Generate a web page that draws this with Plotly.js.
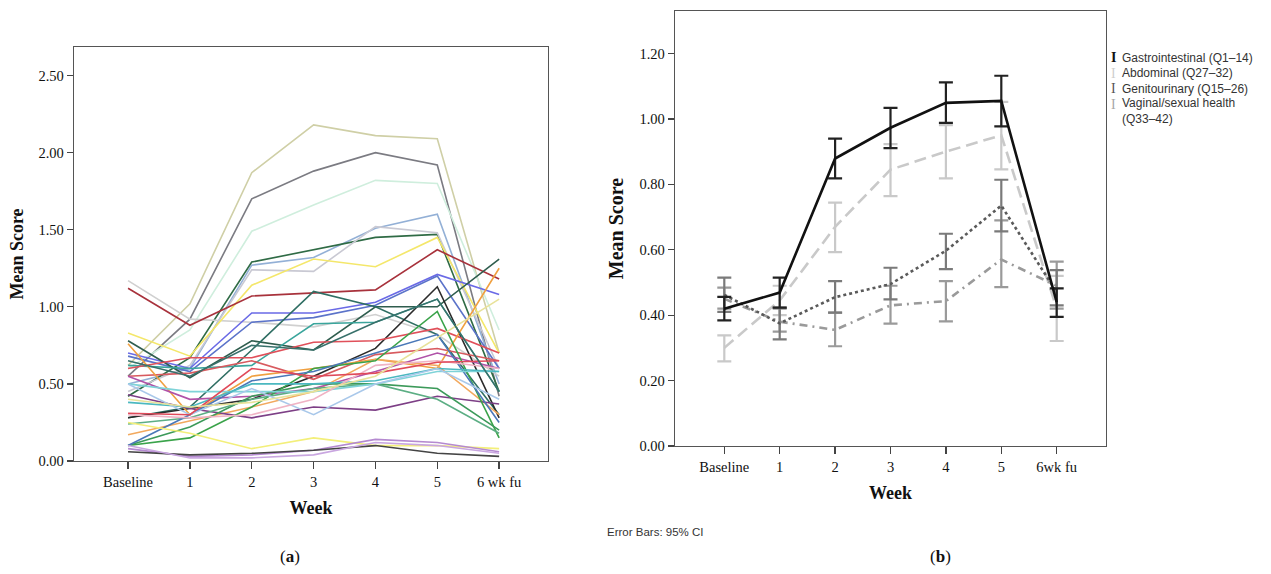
<!DOCTYPE html>
<html>
<head>
<meta charset="utf-8">
<script src="https://cdn.plot.ly/plotly-3.0.1.min.js"></script>
<style>html,body{margin:0;padding:0;background:#fff;}#chart{width:1271px;height:574px;}</style>
</head>
<body>
<div id="chart"></div>
<script>
// ---------- shared categories ----------
const weeks = [0, 1, 2, 3, 4, 5, 6];
const leftTickText = ['Baseline', '1', '2', '3', '4', '5', '6 wk fu'];
const rightTickText = ['Baseline', '1', '2', '3', '4', '5', '6wk fu'];
const leftYTicks = [0, 0.5, 1.0, 1.5, 2.0, 2.5];
const rightYTicks = [0, 0.2, 0.4, 0.6, 0.8, 1.0, 1.2];

// ---------- (a) individual participant mean scores ----------
const p01 = [0.62, 1.02, 1.87, 2.18, 2.11, 2.09, 0.70];
const p02 = [0.55, 0.92, 1.70, 1.88, 2.00, 1.92, 0.42];
const p03 = [0.60, 0.85, 1.49, 1.66, 1.82, 1.80, 0.85];
const p04 = [0.50, 0.60, 1.27, 1.32, 1.51, 1.60, 0.50];
const p05 = [0.42, 0.67, 1.29, 1.37, 1.45, 1.47, 0.45];
const p06 = [0.45, 0.62, 1.24, 1.23, 1.52, 1.48, 0.60];
const p07 = [1.17, 0.92, 0.90, 0.87, 0.95, 0.82, 0.55];
const p08 = [0.83, 0.68, 1.14, 1.31, 1.26, 1.45, 0.70];
const p09 = [1.12, 0.88, 1.07, 1.09, 1.11, 1.37, 1.18];
const p10 = [0.70, 0.60, 0.96, 0.96, 1.03, 1.21, 1.08];
const p11 = [0.68, 0.58, 0.90, 0.93, 1.01, 1.20, 0.60];
const p12 = [0.78, 0.54, 0.78, 0.72, 1.00, 1.00, 1.31];
const p13 = [0.28, 0.35, 0.72, 1.10, 1.00, 0.82, 0.30];
const p14 = [0.28, 0.34, 0.40, 0.55, 0.73, 1.13, 0.28];
const p15 = [0.62, 0.60, 0.62, 0.89, 0.90, 1.05, 0.45];
const p16 = [0.60, 0.67, 0.67, 0.77, 0.78, 0.86, 0.70];
const p17 = [0.55, 0.57, 0.65, 0.53, 0.69, 0.73, 0.65];
const p18 = [0.76, 0.30, 0.55, 0.60, 0.66, 0.60, 1.25];
const p19 = [0.17, 0.26, 0.35, 0.45, 0.66, 0.62, 0.30];
const p20 = [0.43, 0.34, 0.28, 0.35, 0.33, 0.42, 0.37];
const p21 = [0.55, 0.40, 0.42, 0.47, 0.58, 0.70, 0.60];
const p22 = [0.10, 0.15, 0.35, 0.60, 0.65, 0.97, 0.15];
const p23 = [0.10, 0.22, 0.42, 0.50, 0.50, 0.47, 0.20];
const p24 = [0.24, 0.28, 0.40, 0.47, 0.50, 0.40, 0.18];
const p25 = [0.10, 0.30, 0.52, 0.58, 0.70, 0.82, 0.25];
const p26 = [0.50, 0.45, 0.45, 0.45, 0.50, 0.58, 0.58];
const p27 = [0.38, 0.35, 0.50, 0.50, 0.52, 0.60, 0.58];
const p28 = [0.50, 0.30, 0.47, 0.30, 0.50, 0.60, 0.40];
const p29 = [0.25, 0.18, 0.08, 0.15, 0.10, 0.10, 0.08];
const p30 = [0.08, 0.03, 0.04, 0.07, 0.14, 0.12, 0.06];
const p31 = [0.06, 0.04, 0.05, 0.07, 0.10, 0.05, 0.03];
const p32 = [0.10, 0.02, 0.02, 0.04, 0.12, 0.10, 0.05];
const p33 = [0.30, 0.28, 0.30, 0.40, 0.62, 0.65, 0.60];
const p34 = [0.31, 0.30, 0.60, 0.55, 0.57, 0.64, 0.65];
const p35 = [0.40, 0.35, 0.38, 0.45, 0.55, 0.80, 1.05];
const p36 = [0.65, 0.55, 0.75, 0.72, 0.90, 1.05, 0.45];
const participants = [p01,p02,p03,p04,p05,p06,p07,p08,p09,p10,p11,p12,p13,p14,p15,p16,p17,p18,
                      p19,p20,p21,p22,p23,p24,p25,p26,p27,p28,p29,p30,p31,p32,p33,p34,p35,p36];
const participantColors = [
  '#cfcfa6','#7b7b82','#cfeedd','#93b0d6','#2f6b45','#c9c9d3','#d0d0d0','#f4e76a','#a8323c',
  '#6a6ae6','#5b73c9','#2f5d4e','#2f6e63','#2b2b2b','#3aa59c','#e0505a','#d85a5f','#f0a040',
  '#f2a95e','#7d3f86','#b052a8','#3aa34a','#3c9a5a','#5cae84','#4a78b8','#7fd3d8','#4bb8c0',
  '#a9c8ea','#f3ef7a','#b58ad0','#444444','#c9a6e0','#f0b3c4','#e04a5a','#e8e29a','#37706a'];

// ---------- (b) subscale means with 95% CI ----------
const giMean  = [0.420, 0.469, 0.879, 0.973, 1.049, 1.055, 0.440];
const giLow   = [0.384, 0.423, 0.818, 0.911, 0.988, 0.977, 0.395];
const giHigh  = [0.456, 0.515, 0.940, 1.034, 1.112, 1.132, 0.482];
const abMean  = [0.300, 0.445, 0.670, 0.845, 0.900, 0.950, 0.420];
const abLow   = [0.259, 0.400, 0.593, 0.764, 0.818, 0.846, 0.321];
const abHigh  = [0.338, 0.490, 0.744, 0.923, 0.981, 1.052, 0.520];
const guMean  = [0.462, 0.375, 0.455, 0.495, 0.597, 0.735, 0.470];
const guLow   = [0.410, 0.326, 0.408, 0.448, 0.541, 0.656, 0.430];
const guHigh  = [0.515, 0.423, 0.504, 0.545, 0.649, 0.814, 0.538];
const vsMean  = [0.450, 0.380, 0.355, 0.430, 0.443, 0.570, 0.490];
const vsLow   = [0.420, 0.350, 0.305, 0.374, 0.381, 0.486, 0.420];
const vsHigh  = [0.484, 0.420, 0.408, 0.490, 0.504, 0.690, 0.564];
const seriesNames = ['Gastrointestinal (Q1–14)', 'Abdominal (Q27–32)', 'Genitourinary (Q15–26)', 'Vaginal/sexual health<br>(Q33–42)'];

// ---------- build traces ----------
const traces = [];
participants.forEach((p, i) => {
  traces.push({
    x: weeks, y: p, type: 'scatter', mode: 'lines', xaxis: 'x', yaxis: 'y',
    line: {color: participantColors[i], width: 1.6}, showlegend: false, hoverinfo: 'skip'
  });
});

function ciTrace(mean, low, high, lineColor, dash, barColor, barThick) {
  return {
    x: weeks, y: mean, type: 'scatter', mode: 'lines', xaxis: 'x2', yaxis: 'y2',
    line: {color: lineColor, width: 2.6, dash: dash}, showlegend: false,
    error_y: {
      type: 'data', symmetric: false,
      array: high.map((h, k) => h - mean[k]),
      arrayminus: mean.map((m, k) => m - low[k]),
      color: barColor, thickness: barThick, width: 7
    }
  };
}
traces.push(ciTrace(abMean, abLow, abHigh, '#c9c9c9', '12px,6px', '#c9c9c9', 2.2));
traces.push(ciTrace(vsMean, vsLow, vsHigh, '#9a9a9a', '8px,5px,2px,5px', '#9a9a9a', 2.2));
traces.push(ciTrace(guMean, guLow, guHigh, '#5a5a5a', 'dot', '#7a7a7a', 2.2));
traces.push(ciTrace(giMean, giLow, giHigh, '#111111', 'solid', '#222222', 2.2));

const serif = 'Liberation Serif, Times New Roman, serif';
const sans = 'Liberation Sans, Arial, sans-serif';

function xAxis(domain, range, ticktext) {
  return {
    domain: domain, range: range, tickvals: weeks, ticktext: ticktext,
    showgrid: false, zeroline: false, showline: true, mirror: true,
    linecolor: '#555', linewidth: 1.3, ticks: 'outside', ticklen: 7, tickcolor: '#444', tickwidth: 1.3,
    tickfont: {family: serif, size: 14.5, color: '#111'},
    title: {text: 'Week', font: {family: serif, size: 18, color: '#111', weight: 'bold'}, standoff: 12}
  };
}
function yAxis(domain, range, tickvals, titleSize) {
  return {
    domain: domain, range: range, tickvals: tickvals, tickformat: '.2f',
    showgrid: false, zeroline: false, showline: true, mirror: true,
    linecolor: '#555', linewidth: 1.3, ticks: 'outside', ticklen: 6, tickcolor: '#444', tickwidth: 1.3,
    tickfont: {family: serif, size: 14.5, color: '#111'},
    title: {text: 'Mean Score', font: {family: serif, size: titleSize, color: '#111', weight: 'bold'}, standoff: 10}
  };
}

const legendY = [0.899, 0.872, 0.845, 0.818];
const legendIconColors = ['#111111', '#cfcfcf', '#555555', '#a8a8a8'];
const annotations = [];
seriesNames.forEach((name, i) => {
  annotations.push({xref: 'paper', yref: 'paper', x: 0.8725, y: legendY[i], xanchor: 'left', yanchor: 'middle',
    text: i === 0 ? '<b>I</b>' : 'I', showarrow: false, font: {family: serif, size: 14, color: legendIconColors[i]}});
  annotations.push({xref: 'paper', yref: 'paper', x: 0.8815, y: legendY[i] + (i === 3 ? -0.011 : 0), xanchor: 'left', yanchor: 'middle',
    align: 'left', text: name, showarrow: false, font: {family: sans, size: 12, color: '#333'}});
});
annotations.push({xref: 'paper', yref: 'paper', x: 655 / 1271, y: 1 - 532 / 574, xanchor: 'center', yanchor: 'middle',
  text: 'Error Bars: 95% CI', showarrow: false, font: {family: sans, size: 11.5, color: '#333'}});
annotations.push({xref: 'paper', yref: 'paper', x: 290 / 1271, y: 1 - 556 / 574, xanchor: 'center', yanchor: 'middle',
  text: '(<b>a</b>)', showarrow: false, font: {family: serif, size: 17, color: '#111'}});
annotations.push({xref: 'paper', yref: 'paper', x: 940 / 1271, y: 1 - 556 / 574, xanchor: 'center', yanchor: 'middle',
  text: '(<b>b</b>)', showarrow: false, font: {family: serif, size: 17, color: '#111'}});

const layout = {
  width: 1271, height: 574,
  margin: {l: 0, r: 0, t: 0, b: 0},
  paper_bgcolor: '#ffffff', plot_bgcolor: '#ffffff',
  showlegend: false,
  xaxis: Object.assign(xAxis([74 / 1271, 548 / 1271], [-0.874, 6.79], leftTickText), {anchor: 'y'}),
  yaxis: Object.assign(yAxis([(574 - 461) / 574, (574 - 47) / 574], [0, 2.685], leftYTicks, 18), {anchor: 'x'}),
  xaxis2: Object.assign(xAxis([675 / 1271, 1106 / 1271], [-0.89, 6.89], rightTickText), {anchor: 'y2'}),
  yaxis2: Object.assign(yAxis([(574 - 446) / 574, (574 - 11) / 574], [0, 1.33], rightYTicks, 20), {anchor: 'x2'}),
  annotations: annotations
};

Plotly.newPlot('chart', traces, layout, {displayModeBar: false, staticPlot: true});
</script>
</body>
</html>
